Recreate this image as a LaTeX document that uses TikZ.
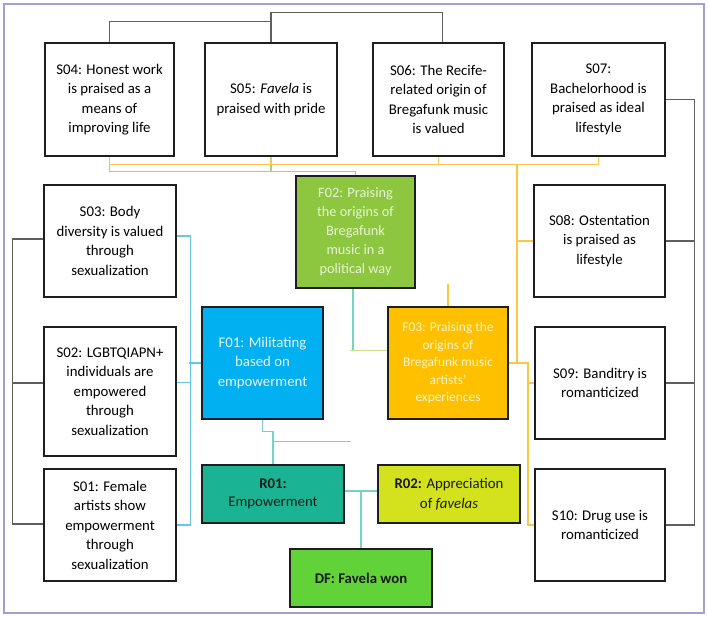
\documentclass[tikz,border=0pt]{standalone}
\usepackage{fontspec}
\setmainfont{Carlito}
\usetikzlibrary{calc}
\definecolor{frame}{RGB}{160,160,212}
\definecolor{boxline}{RGB}{30,30,30}
\definecolor{grayline}{RGB}{95,95,95}
\definecolor{yelline}{RGB}{250,200,70}
\definecolor{grnline}{RGB}{165,212,125}
\definecolor{bluline}{RGB}{100,200,230}
\definecolor{tealline}{RGB}{120,212,190}
\definecolor{ygline}{RGB}{205,225,140}
\definecolor{fgreen}{RGB}{141,198,63}
\definecolor{fblue}{RGB}{0,176,240}
\definecolor{fyellow}{RGB}{255,192,0}
\definecolor{rteal}{RGB}{26,180,148}
\definecolor{rlime}{RGB}{212,226,30}
\definecolor{dgreen}{RGB}{98,210,57}
\definecolor{f2text}{RGB}{232,244,215}
\definecolor{f3text}{RGB}{255,244,205}
\definecolor{f1text}{RGB}{230,246,252}
\definecolor{rtext}{RGB}{25,25,25}
\begin{document}
\begin{tikzpicture}[x=1pt,y=-1pt,
  base/.style={draw=boxline, line width=1.6pt, align=center, inner sep=0pt,
    font=\fontsize{14.8}{19.5}\selectfont},
  sbox/.style={base, fill=white, text=black},
  fbox/.style={base},
  sz/.style 2 args={minimum width=#1pt, minimum height=#2pt},
  gcon/.style={draw=grayline, line width=1.1pt},
  ycon/.style={draw=yelline, line width=1.1pt},
  gncon/.style={draw=grnline, line width=1.1pt},
  bcon/.style={draw=bluline, line width=1.1pt},
  tcon/.style={draw=tealline, line width=1.1pt},
  ygcon/.style={draw=ygline, line width=1.1pt}]
\useasboundingbox (0,0) rectangle (708,616);
\draw[frame, line width=2.5pt] (4,4) rectangle (704,613);

% top row
\node[sbox, sz={129}{113}] (S04) at (109.5,99.5) {S04: Honest work\\is praised as a\\means of\\improving life};
\node[sbox, sz={132}{113}] (S05) at (271,99.5) {S05: \textit{Favela} is\\praised with pride};
\node[sbox, sz={131}{113}] (S06) at (438.5,99.5) {S06: The Recife-\\related origin of\\Bregafunk music\\is valued};
\node[sbox, sz={133}{113}] (S07) at (598.5,99.5) {S07:\\Bachelorhood is\\praised as ideal\\lifestyle};
% left column
\node[sbox, sz={132}{112}] (S03) at (110,241) {S03: Body\\diversity is valued\\through\\sexualization};
\node[sbox, sz={132}{129}] (S02) at (110,391.5) {S02: LGBTQIAPN+\\individuals are\\empowered\\through\\sexualization};
\node[sbox, sz={132}{112}] (S01) at (110,525) {S01: Female\\artists show\\empowerment\\through\\sexualization};
% right column
\node[sbox, sz={131}{112}] (S08) at (599.5,241) {S08: Ostentation\\is praised as\\lifestyle};
\node[sbox, sz={130}{112}] (S09) at (600,383) {S09: Banditry is\\romanticized};
\node[sbox, sz={130}{112}] (S10) at (600,525) {S10: Drug use is\\romanticized};
% F nodes
\node[fbox, sz={119}{112}, fill=fgreen, text=f2text, font=\fontsize{14.3}{19}\selectfont] (F02) at (355.5,232) {F02: Praising\\the origins of\\Bregafunk\\music in a\\political way};
\node[fbox, sz={121}{112}, fill=fblue, text=f1text] (F01) at (262.5,363) {F01: Militating\\based on\\empowerment};
\node[fbox, sz={120}{112}, fill=fyellow, text=f3text, font=\fontsize{13.4}{17.5}\selectfont] (F03) at (448,363) {F03: Praising the\\origins of\\Bregafunk music\\artists'\\experiences};
% R nodes
\node[fbox, sz={142}{58}, fill=rteal, text=rtext, font=\fontsize{14.8}{17.5}\selectfont] (R01) at (273,494) {\textbf{R01:}\\Empowerment};
\node[fbox, sz={142}{58}, fill=rlime, text=rtext, font=\fontsize{14.8}{19.5}\selectfont] (R02) at (449,494) {\textbf{R02:} Appreciation\\of \textit{favelas}};
\node[fbox, sz={142}{58}, fill=dgreen, text=rtext] (DF) at (361,578) {\textbf{DF: Favela won}};

% gray connectors top
\draw[gcon] (S04.north) -- ++(0,-21) -| (S05.north);
\draw[gcon] (S05.north) -- ++(0,-30) -| ([xshift=4pt]S06.north);
% gray connectors right
\draw[gcon] (S07.east) -- ++(29,0) |- (S10.east);
\draw[gcon] (S08.east) -- ++(29,0);
\draw[gcon] (S09.east) -- ++(29,0);
% gray connectors left
\draw[gcon] ([yshift=2pt]S03.west) -- ++(-31,0) |- ([yshift=1pt]S01.west);
\draw[gcon] ([yshift=8.5pt]S02.west) -- ++(-31,0);
% blue connectors to F01
\draw[bcon] ([yshift=5pt]S03.east) -- ++(14,0) |- (S01.east);
\draw[bcon] ([yshift=9pt]S02.east) -- ++(14,0);
\draw[bcon] (F01.west) -- ++(-12,0);
% green connectors to F02
\draw[gncon] (S04.south) -- ++(0,15) -| (F02.north);
\draw[gncon] (S05.south) -- ++(0,15);
% yellow connectors to F03
\draw[ycon] (S04.south) -- ++(0,8) -| (S07.south);
\draw[ycon] (S05.south) -- ++(0,8);
\draw[ycon] (S06.south) -- ++(0,8) coordinate (ybus0);
\coordinate (ybus) at (517,164);
\draw[ycon] (ybus) |- (S08.west);
\draw[ycon] (ybus) |- (F03.east);
\coordinate (yj) at (528,363);
\draw[ycon] (F03.east) -- (yj) |- (S09.west);
\draw[ycon] (yj) |- (S10.west);
\draw[ycon] (F03.north) -- ++(0,-22) coordinate (f3stub);
% F02 connectors
\draw[tcon] ([xshift=-2.5pt]F02.south) -- ++(0,62) coordinate (f2j);
\draw[ygcon] ([xshift=-3pt]f2j) -- (f2j -| F03.west);
% F01 to R01
\draw[tcon] (F01.south) -- ++(0,12) -| (R01.north);
\draw[tcon] ([yshift=23pt]R01.north) coordinate (r1j) -- ++(78,0) coordinate (r1free);
% R to DF
\draw[tcon] ([yshift=3pt]R01.east) -- ([yshift=3pt]R02.west);
\draw[tcon] (DF.north) -- ([yshift=3pt]DF.north |- R01.east);
\end{tikzpicture}
\end{document}
